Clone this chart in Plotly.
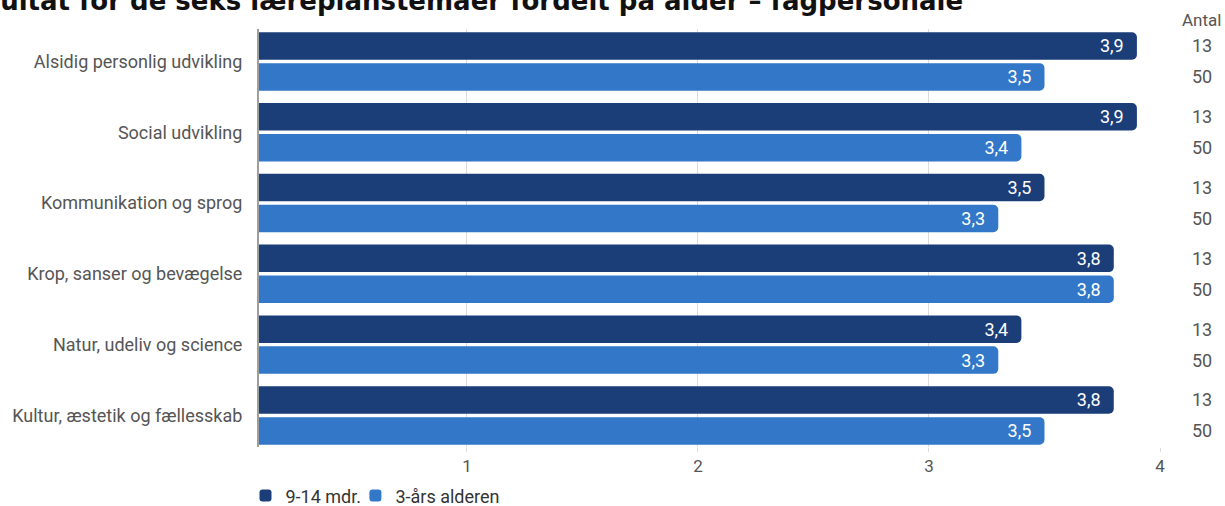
import plotly.graph_objects as go

categories = [
    "Alsidig personlig udvikling",
    "Social udvikling",
    "Kommunikation og sprog",
    "Krop, sanser og bevægelse",
    "Natur, udeliv og science",
    "Kultur, æstetik og fællesskab",
]
series_names = ["9-14 mdr.", "3-års alderen"]
values_infant = [3.9, 3.9, 3.5, 3.8, 3.4, 3.8]
values_3yr = [3.5, 3.4, 3.3, 3.8, 3.3, 3.5]
antal_infant = [13, 13, 13, 13, 13, 13]
antal_3yr = [50, 50, 50, 50, 50, 50]
x_ticks = [1, 2, 3, 4]
title_text = "Resultat for de seks læreplanstemaer fordelt på alder – fagpersonale"

DARK = "#1b3e79"
LIGHT = "#3277c8"
FONT = "Roboto"


def fmt(v):
    return f"{v:.1f}".replace(".", ",") + "\u2002"


fig = go.Figure()
for name, vals, col, leg in [(series_names[0], values_infant, DARK, "legend"),
                             (series_names[1], values_3yr, LIGHT, "legend2")]:
    fig.add_trace(go.Bar(
        y=categories, x=vals, name=name, orientation="h", legend=leg,
        marker=dict(color=col, line=dict(width=0)),
        text=[fmt(v) for v in vals], textposition="inside", insidetextanchor="end",
        textangle=0, constraintext="none",
        textfont=dict(family=FONT, size=18, color="white"),
        hoverinfo="x+y",
    ))

annotations = []
# Antal column
annotations.append(dict(text="Antal", xref="paper", yref="paper", x=1.0466, y=1,
                        xanchor="center", yanchor="middle", yshift=9, showarrow=False,
                        font=dict(family=FONT, size=17, color="#555")))
for cat, a, b in zip(categories, antal_infant, antal_3yr):
    annotations.append(dict(text=str(a), xref="paper", yref="y", x=1.0466, y=cat,
                            xanchor="center", yanchor="middle", yshift=15.5, showarrow=False,
                            font=dict(family=FONT, size=18, color="#555")))
    annotations.append(dict(text=str(b), xref="paper", yref="y", x=1.0466, y=cat,
                            xanchor="center", yanchor="middle", yshift=-15.5, showarrow=False,
                            font=dict(family=FONT, size=18, color="#555")))
# clipped title
annotations.append(dict(text="<b>" + title_text + "</b>", xref="paper", yref="paper",
                        x=-0.3485, y=1, xanchor="left", yanchor="middle", yshift=29,
                        showarrow=False,
                        font=dict(family="DejaVu Sans", size=26, color="#111")))

legend_style = dict(orientation="h", xanchor="left", y=-0.117, yanchor="middle",
                    font=dict(family=FONT, size=18, color="#333"),
                    bgcolor="rgba(0,0,0,0)",
                    itemclick=False, itemdoubleclick=False)

fig.update_layout(
    width=1225, height=506,
    margin=dict(l=259, r=65, t=29, b=59, autoexpand=False),
    paper_bgcolor="white", plot_bgcolor="white",
    barmode="group", bargap=0.125, bargroupgap=0.112,
    barcornerradius=5,
    showlegend=True,
    legend=dict(x=-0.015, **legend_style),
    legend2=dict(x=0.107, **legend_style),
    annotations=annotations,
    font=dict(family=FONT),
)
fig.update_xaxes(range=[0.1, 4], tickvals=x_ticks, ticktext=[str(t) for t in x_ticks],
                 showgrid=True, gridcolor="#dcdcdc", gridwidth=1,
                 ticks="outside", ticklen=4, tickcolor="#dcdcdc",
                 showline=False, zeroline=False,
                 tickfont=dict(family=FONT, size=17, color="#555"))
fig.update_yaxes(type="category", categoryorder="array", categoryarray=categories,
                 range=[5.446, -0.458],
                 showgrid=False, showline=True, linecolor="#9e9e9e", linewidth=2,
                 ticks="", ticklabelstandoff=11,
                 tickfont=dict(family=FONT, size=18, color="#555"))

fig.write_html("out.html", config={"displayModeBar": False},
               post_script="document.body.style.margin='0';")
